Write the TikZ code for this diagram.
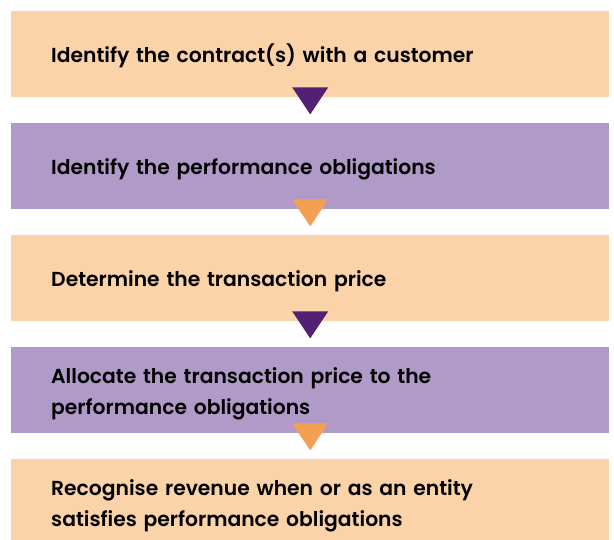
\documentclass[tikz,border=0pt]{standalone}
\usepackage{fontspec}
\setmainfont{Poppins}[UprightFont=* SemiBold]
\usetikzlibrary{calc}
\definecolor{peach}{HTML}{FBD3A9}
\definecolor{lilac}{HTML}{B09AC7}
\definecolor{plum}{HTML}{522173}
\definecolor{apricot}{HTML}{F3A055}
\tikzset{
  stepbox/.style={rectangle,anchor=north west,minimum width=598bp,minimum height=86bp,
    inner xsep=40bp,inner ysep=0pt,text width=518bp,align=left,
    font=\fontsize{20.3bp}{31bp}\selectfont,
    execute at begin node={\rule{0pt}{25bp}},
    execute at end node={\rule[-8bp]{0pt}{8bp}}},
}
\begin{document}
\begin{tikzpicture}[x=1bp,y=1bp]
    %%
    \useasboundingbox (0,0) rectangle (614,540);
    \node (s1) at (11,529) [stepbox,fill=peach] {Identify the contract(s) with a customer};
    \node (s2) at (11,417) [stepbox,fill=lilac] {Identify the performance obligations};
    \node (s3) at (11,305) [stepbox,fill=peach] {Determine the transaction price};
    \node (s4) at (11,193) [stepbox,fill=lilac] {Allocate the transaction price to the\\performance obligations};
    \node (s5) at (11,81) [stepbox,fill=peach,minimum height=81bp,
      execute at begin node={\rule{0pt}{30bp}}] {Recognise revenue when or as an entity\\satisfies performance obligations};
    %
    \fill [plum] ($(s1.south)+(-18,10)$) -- ($(s1.south)+(18,10)$) -- ($(s1.south)+(0,-17)$) -- cycle;
    \fill [apricot] ($(s2.south)+(-18,10)$) -- ($(s2.south)+(18,10)$) -- ($(s2.south)+(0,-17)$) -- cycle;
    \fill [plum] ($(s3.south)+(-18,10)$) -- ($(s3.south)+(18,10)$) -- ($(s3.south)+(0,-17)$) -- cycle;
    \fill [apricot] ($(s4.south)+(-18,10)$) -- ($(s4.south)+(18,10)$) -- ($(s4.south)+(0,-17)$) -- cycle;
    %
\end{tikzpicture}
\end{document}
